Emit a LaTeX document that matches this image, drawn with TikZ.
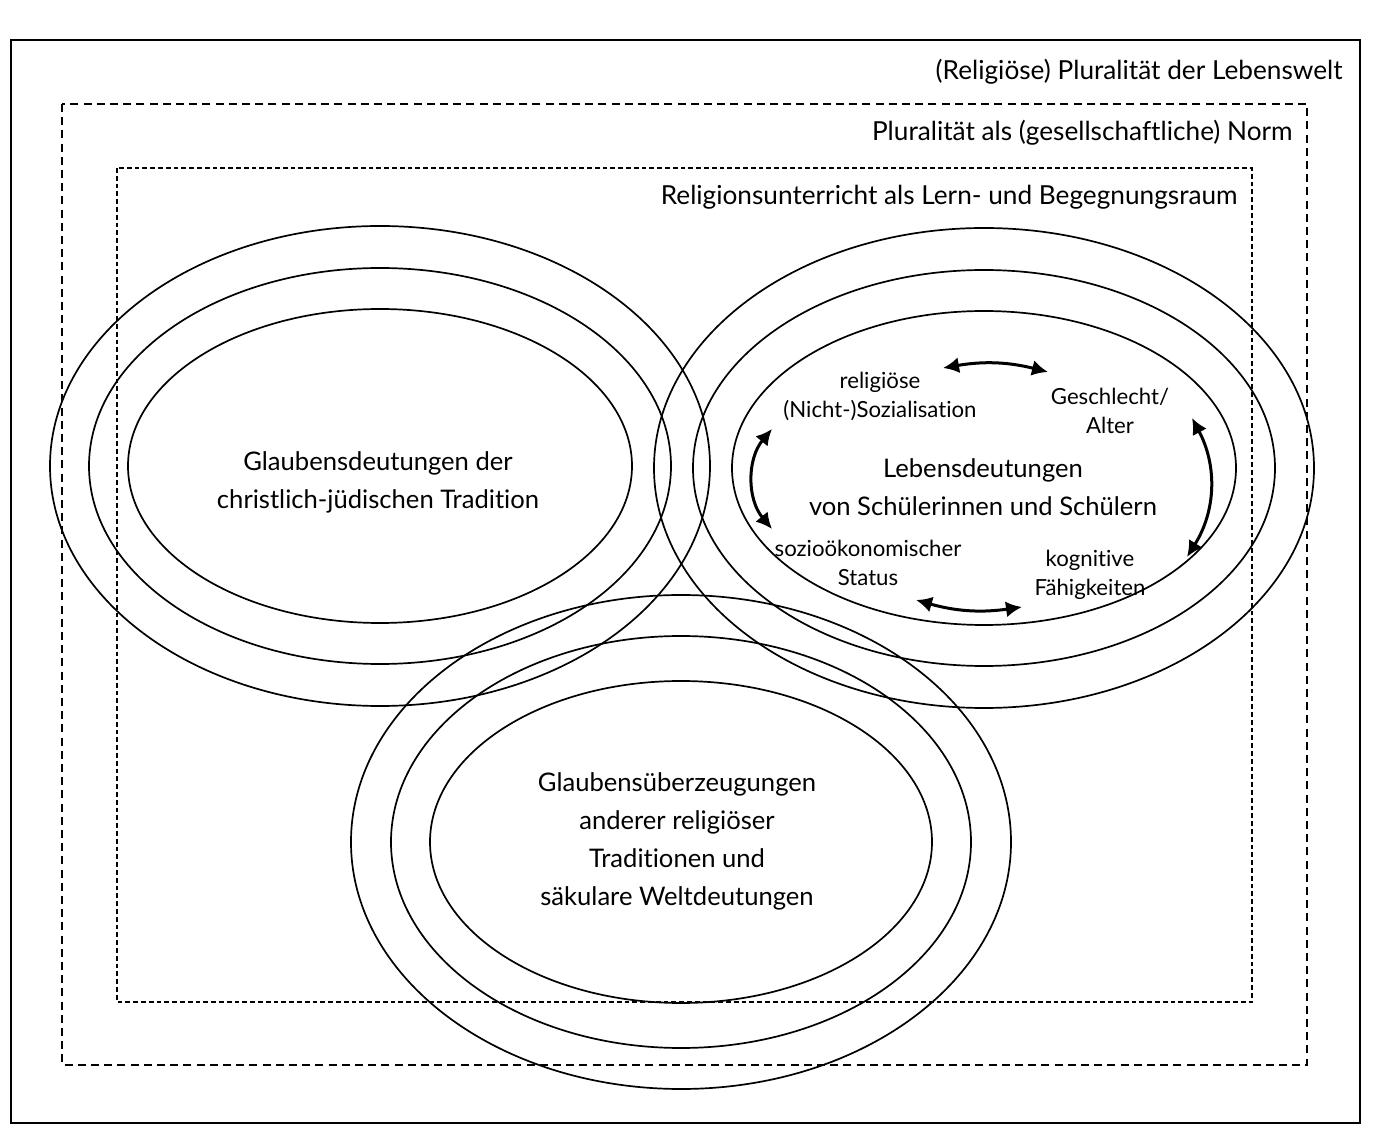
\documentclass[tikz,border=0pt]{standalone}
\usepackage{fontspec}
\setmainfont{Lato}[Ligatures=NoCommon]
\usepackage{tikz}
\usetikzlibrary{positioning,arrows.meta}

\begin{document}
\begin{tikzpicture}[
        x=0.5pt, y=-0.5pt,
        ring/.style={line width=0.85pt},
        frame/.style={line width=1.4pt},
        normbox/.style={line width=1.1pt, dash pattern=on 4pt off 2.6pt},
        roombox/.style={line width=0.9pt, dash pattern=on 2.4pt off 1.5pt},
        title/.style={anchor=east, inner sep=0pt, font=\fontsize{13.1}{15}\selectfont},
        core/.style={align=center, inner sep=0pt, font=\fontsize{12.8}{19}\selectfont},
        factor/.style={align=center, inner sep=0pt, font=\fontsize{11.1}{14.5}\selectfont},
        link/.style={{Latex[length=8pt,width=8pt]}-{Latex[length=8pt,width=8pt]}, line width=1.5pt}
    ]
        \path[use as bounding box, fill=white] (0,0) rectangle (1383,1128);

        \draw[frame]   (11,40)  rectangle (1360,1123);
        \draw[normbox] (62,104) rectangle (1307,1065);
        \draw[roombox] (117,168) rectangle (1252,1002);

        \node[title] (lebenswelt) at (1343,72)  {(Religiöse) Pluralität der Lebenswelt};
        \node[title] (norm)       at (1293,133) {Pluralität als (gesellschaftliche) Norm};
        \node[title] (raum)       at (1238,197) {Religionsunterricht als Lern- und Begegnungsraum};

        \coordinate (cL) at (380,466);
        \coordinate (cR) at (984,468);
        \coordinate (cB) at (681,842);
        \foreach \rx/\ry in {330/240, 291/198, 252/157} {
            \draw[ring] (cL) ellipse [x radius=\rx, y radius=\ry];
            \draw[ring] (cR) ellipse [x radius=\rx, y radius=\ry];
        }
        \foreach \rx/\ry in {330/247, 290/206, 251/161}
            \draw[ring] (cB) ellipse [x radius=\rx, y radius=\ry];

        \node[core] (tradition) at (378,482) {Glaubensdeutungen der\\christlich-jüdischen Tradition};
        \node[core] (schueler)  at (983,487) {Lebensdeutungen\\von Schülerinnen und Schülern};
        \node[core] (welt)      at (677,841) {Glaubensüberzeugungen\\anderer religiöser\\Traditionen und\\säkulare Weltdeutungen};

        \node[factor] (sozialisation) at (880,396)  {religiöse\\(Nicht-)Sozialisation};
        \node[factor] (geschlecht)    at (1110,411) {Geschlecht/\\Alter};
        \node[factor] (status)        at (868,563)  {sozioökonomischer\\Status};
        \node[factor] (kognition)     at (1090,575) {kognitive\\Fähigkeiten};

        \coordinate (soz-r) at (943,368);
        \coordinate (ges-l) at (1048,372);
        \coordinate (ges-b) at (1192,418);
        \coordinate (kog-t) at (1187,557);
        \coordinate (kog-l) at (1022,607);
        \coordinate (sta-r) at (916,600);
        \coordinate (sta-t) at (772,529);
        \coordinate (soz-b) at (772,429);
        \draw[link] (soz-r) to[bend left=12] (ges-l);
        \draw[link] (ges-b) to[bend left=30] (kog-t);
        \draw[link] (kog-l) to[bend left=12] (sta-r);
        \draw[link] (sta-t) to[bend left=40] (soz-b);
    \end{tikzpicture}
\end{document}
